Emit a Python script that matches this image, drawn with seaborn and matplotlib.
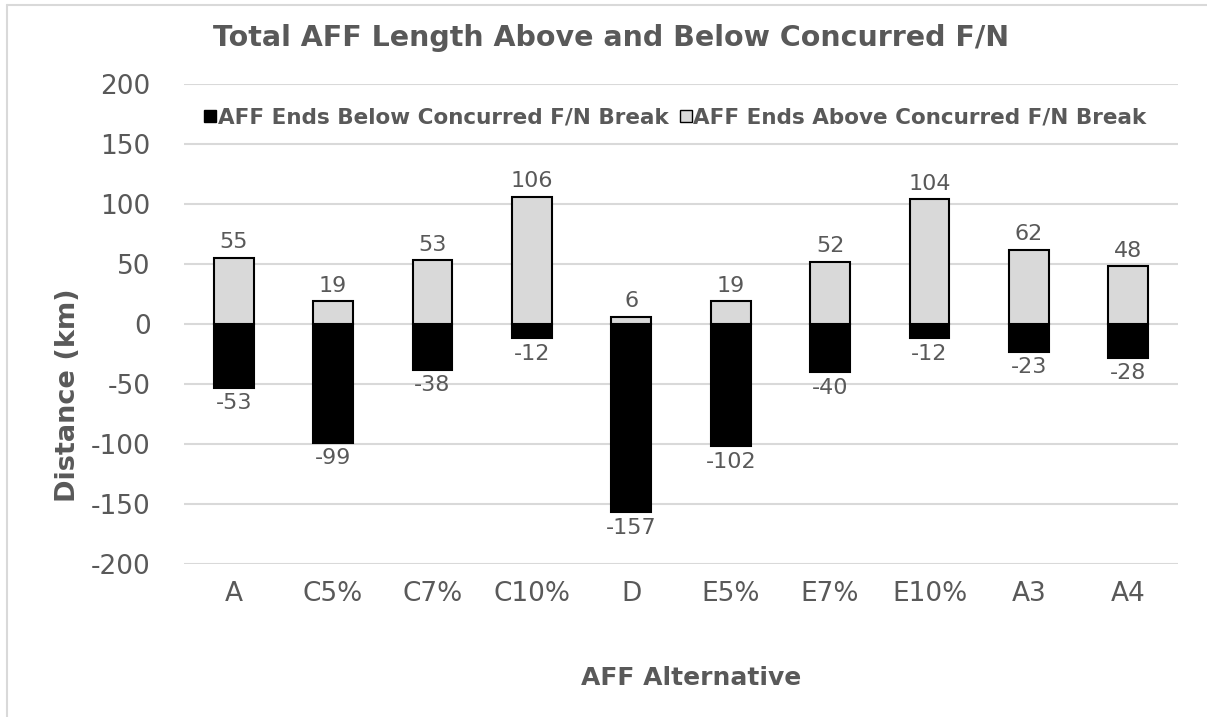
import matplotlib
matplotlib.use("Agg")
import matplotlib.pyplot as plt
from matplotlib.lines import Line2D
import seaborn as sns

# data
alternatives = ['A', 'C5%', 'C7%', 'C10%', 'D', 'E5%', 'E7%', 'E10%', 'A3', 'A4']
ends_below = [-53, -99, -38, -12, -157, -102, -40, -12, -23, -28]
ends_above = [55, 19, 53, 106, 6, 19, 52, 104, 62, 48]
yticks = [-200, -150, -100, -50, 0, 50, 100, 150, 200]

sns.set_theme(style='white')
plt.rcParams['font.family'] = ['DejaVu Sans']
text_grey = '#595959'

fig = plt.figure(figsize=(12.07, 7.17), dpi=100)
ax = fig.add_axes([0.1524, 0.2133, 0.8236, 0.6695])

sns.barplot(x=alternatives, y=ends_below, color='black', edgecolor='black',
            linewidth=1.5, width=0.4, saturation=1, ax=ax, zorder=3)
sns.barplot(x=alternatives, y=ends_above, color='#d9d9d9', edgecolor='black',
            linewidth=1.5, width=0.4, saturation=1, ax=ax, zorder=3)

# value labels
for cont in ax.containers:
    ax.bar_label(cont, fmt='%d', padding=4, fontsize=16, color=text_grey)

ax.set_ylim(-200, 200)
ax.set_yticks(yticks)
ax.set_yticklabels([str(t) for t in yticks])
ax.yaxis.grid(True, color='#d9d9d9', linewidth=1.5, zorder=0)
ax.set_axisbelow(True)
for s in ax.spines.values():
    s.set_visible(False)
ax.tick_params(axis='both', colors=text_grey, labelsize=19, length=0)
ax.tick_params(axis='y', pad=24)
ax.tick_params(axis='x', pad=12)
ax.set_xlabel('')
ax.set_ylabel('')

fig.text(0.573, 0.054, 'AFF Alternative', ha='center', va='center',
         fontsize=18, fontweight='bold', color=text_grey)
fig.text(0.056, 0.449, 'Distance (km)', ha='center', va='center', rotation=90,
         fontsize=19.5, fontweight='bold', color=text_grey)
fig.text(0.506, 0.947, 'Total AFF Length Above and Below Concurred F/N',
         ha='center', va='center', fontsize=20.5, fontweight='bold', color=text_grey)

handles = [Line2D([], [], marker='s', linestyle='none', markersize=8,
                  markerfacecolor='black', markeredgecolor='black'),
           Line2D([], [], marker='s', linestyle='none', markersize=8,
                  markerfacecolor='#d9d9d9', markeredgecolor='black')]
labels = ['AFF Ends Below Concurred F/N Break', 'AFF Ends Above Concurred F/N Break']
leg = ax.legend(handles, labels, loc='center', bbox_to_anchor=(0.494, 0.931), ncol=2,
                frameon=False, handletextpad=0.05, columnspacing=0.5, handlelength=0.6,
                prop={'weight': 'bold', 'size': 15.5})
for t in leg.get_texts():
    t.set_color(text_grey)

# light border lines on the left and top edge of the chart area
fig.add_artist(Line2D([0.006, 0.006], [0.0, 0.993], transform=fig.transFigure,
                      color='#d9d9d9', linewidth=1.5))
fig.add_artist(Line2D([0.006, 1.0], [0.993, 0.993], transform=fig.transFigure,
                      color='#d9d9d9', linewidth=1.5))

fig.savefig('out.png', dpi=100, facecolor='white')
